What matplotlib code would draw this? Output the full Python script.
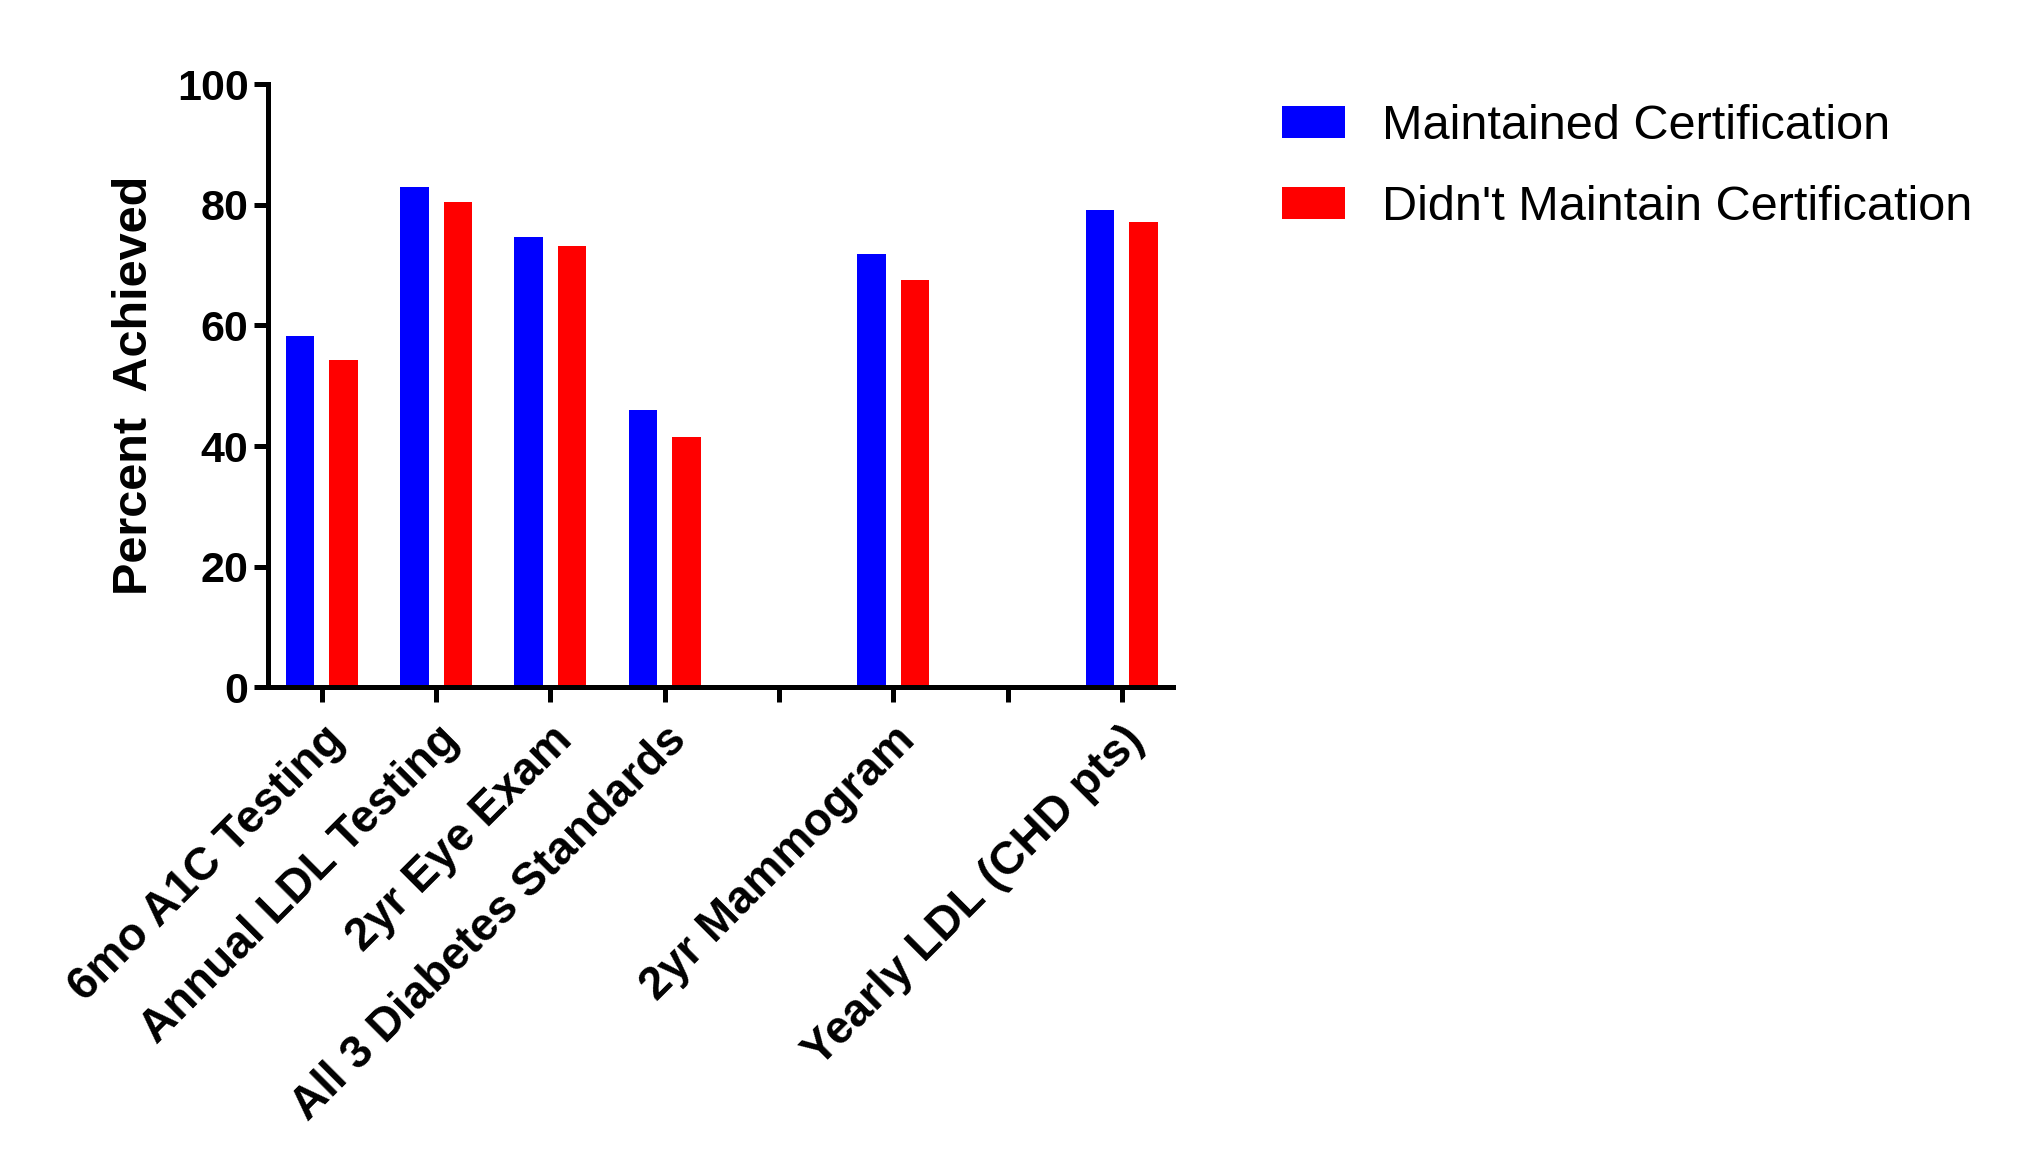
import matplotlib
matplotlib.use("Agg")
import matplotlib.pyplot as plt
import numpy as np

categories = [
    "6mo A1C Testing",
    "Annual LDL Testing",
    "2yr Eye Exam",
    "All 3 Diabetes Standards",
    "",
    "2yr Mammogram",
    "",
    "Yearly LDL (CHD pts)",
]
maintained = [58.2, 82.9, 74.6, 45.9, np.nan, 71.9, np.nan, 79.2]
not_maintained = [54.2, 80.4, 73.2, 41.5, np.nan, 67.6, np.nan, 77.2]
series_labels = ["Maintained Certification", "Didn't Maintain Certification"]

plt.rcParams["font.family"] = ["Liberation Sans", "DejaVu Sans"]

fig = plt.figure(figsize=(20.23, 11.67), dpi=100, facecolor="w")
ax = fig.add_axes([0.1325, 0.411, 0.4475, 0.517])

ind = np.arange(len(categories))
width = 0.25
ax.bar(ind - 0.19, maintained, width, color="#0000ff", label=series_labels[0])
ax.bar(ind + 0.19, not_maintained, width, color="#ff0000", label=series_labels[1])

ax.set_xlim(-0.47, len(categories) - 0.55)
ax.set_ylim(0, 100)
ax.set_yticks([0, 20, 40, 60, 80, 100])
ax.set_xticks(ind)
ax.set_xticklabels(
    categories, rotation=45, ha="right", va="top", rotation_mode="anchor",
    fontsize=33, fontweight="bold",
)
for lab in ax.get_yticklabels():
    lab.set_fontsize(31)
    lab.set_fontweight("bold")

ax.set_ylabel("Percent  Achieved", fontsize=35, fontweight="bold", labelpad=14)

for side in ["top", "right"]:
    ax.spines[side].set_visible(False)
for side in ["left", "bottom"]:
    ax.spines[side].set_linewidth(3.6)
ax.tick_params(axis="y", width=3.6, length=10, direction="out", pad=4)
ax.tick_params(axis="x", width=3.6, length=11, direction="out", pad=11)

ax.legend(
    loc="upper left", bbox_to_anchor=(0.6335, 0.9108), bbox_transform=fig.transFigure,
    frameon=False, prop={"size": 35}, borderpad=0, borderaxespad=0,
    handlelength=1.3, handleheight=0.62, handletextpad=0.76, labelspacing=0.74,
)

fig.savefig("out.png", dpi=100)
